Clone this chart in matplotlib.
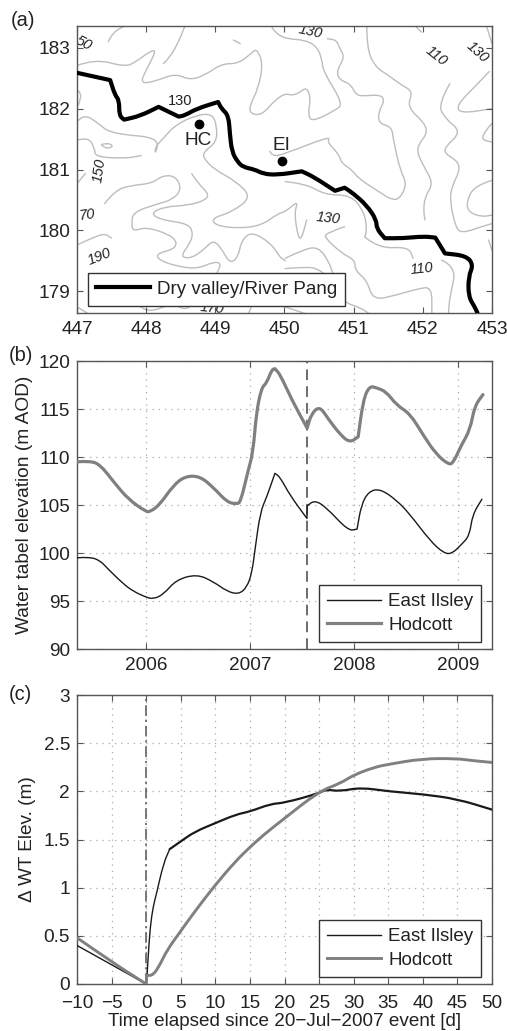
import matplotlib
matplotlib.use('Agg')
import matplotlib.pyplot as plt
from matplotlib.path import Path
from matplotlib.patches import PathPatch

plt.rcParams['font.family'] = ['Liberation Sans', 'DejaVu Sans']

W, H = 507, 1031
FS = 13.7
TEXT = '#222222'
FRAME = '#555555'
GREY = '#808080'
CONTOUR = '#bdbdbd'

# (a) river trace, km grid (repeated points are sharp bends)
river_x = [447.00, 447.48, 447.48, 447.55, 447.61, 447.61, 447.68, 447.68, 447.91, 448.18, 448.18, 448.47, 448.47,
           448.56, 448.73, 449.04, 449.04, 449.09, 449.19, 449.21, 449.24, 449.32, 449.40, 449.57, 449.69, 449.89,
           450.25, 450.25, 450.42, 450.73, 450.73, 450.87, 450.87, 450.99, 451.19, 451.33, 451.33, 451.45, 451.45,
           451.72, 452.01, 452.18, 452.18, 452.32, 452.32, 452.63, 452.73, 452.66, 452.66, 452.75, 452.79]
river_y = [182.59, 182.47, 182.47, 182.22, 182.14, 181.89, 181.82, 181.82, 181.88, 182.03, 182.03, 181.87, 181.87,
           181.89, 182.00, 182.11, 182.11, 182.00, 181.89, 181.59, 181.29, 181.13, 181.04, 181.00, 180.93, 180.91,
           180.97, 180.97, 180.88, 180.65, 180.65, 180.70, 180.70, 180.61, 180.41, 180.17, 180.03, 179.87, 179.87,
           179.87, 179.90, 179.88, 179.88, 179.62, 179.62, 179.58, 179.43, 179.24, 178.91, 178.74, 178.64]

# (a) contour traces
contours = [
    [(447.00, 182.71), (447.26, 182.82), (447.69, 182.69), (447.84, 182.76), (448.06, 182.95), (448.15, 182.96),
     (448.01, 182.66), (447.91, 182.41), (448.13, 182.45), (448.42, 182.58), (448.63, 182.47), (448.85, 182.55),
     (449.09, 182.74), (449.33, 182.74), (449.52, 182.91), (449.60, 182.99), (449.69, 182.74), (449.62, 182.33),
     (449.50, 182.06), (449.50, 181.92), (449.67, 181.89), (449.86, 182.14), (450.01, 182.25), (450.10, 182.22),
     (450.20, 182.25), (450.32, 182.36), (450.38, 182.17), (450.34, 181.92), (450.39, 181.78), (450.73, 181.97),
     (450.85, 182.08), (450.56, 182.61), (450.54, 182.82), (450.47, 183.02), (450.30, 183.13), (450.01, 183.15),
     (449.86, 183.26), (449.81, 183.36)],
    [(447.45, 183.10), (447.52, 183.26), (447.69, 183.36)],
    [(448.25, 182.74), (448.34, 182.84), (448.47, 183.10), (448.56, 183.36)],
    [(449.26, 183.13), (449.36, 183.07)],
    [(447.01, 182.30), (447.07, 182.25), (447.02, 182.06)],
    [(447.00, 181.78), (447.09, 181.92), (447.31, 181.76), (447.45, 181.62), (447.77, 181.56), (448.03, 181.54),
     (448.18, 181.45), (448.13, 181.25), (448.13, 181.37), (448.27, 181.54), (448.42, 181.73), (448.71, 181.89),
     (448.95, 181.92), (449.02, 181.73), (449.02, 181.45), (448.83, 181.29), (448.83, 181.18), (449.00, 180.99),
     (449.28, 180.82), (449.53, 180.55), (449.24, 180.30), (448.95, 180.20), (449.00, 180.08), (449.33, 180.03),
     (449.67, 180.08), (449.91, 180.28), (450.01, 180.30), (450.20, 180.49), (450.14, 180.28), (450.20, 179.87),
     (450.25, 179.87), (450.32, 180.17)],
    [(447.36, 181.41), (447.43, 181.44), (447.53, 181.39), (447.45, 181.34), (447.36, 181.39), (447.36, 181.41)],
    [(447.00, 181.48), (447.16, 181.54), (447.26, 181.34), (447.26, 181.21), (447.69, 181.18), (447.93, 181.23)],
    [(447.00, 180.77), (447.12, 180.93)],
    [(447.40, 180.44), (447.55, 180.66), (447.79, 180.74), (448.08, 180.77), (448.25, 180.91), (448.44, 180.88),
     (448.51, 180.66), (448.37, 180.50), (448.18, 180.44), (447.81, 180.30), (447.79, 180.11), (447.81, 179.98),
     (448.01, 180.06), (448.42, 179.89), (448.44, 179.70), (448.15, 179.62), (448.18, 179.51), (448.47, 179.40),
     (448.75, 179.37), (448.97, 179.48), (449.09, 179.46), (449.02, 179.29)],
    [(448.66, 180.93), (448.75, 180.77), (448.90, 180.61), (448.87, 180.50), (448.61, 180.41), (448.27, 180.39),
     (448.06, 180.28), (448.22, 180.17), (448.61, 180.11), (448.68, 179.95), (448.63, 179.78), (448.49, 179.56),
     (448.66, 179.54), (448.85, 179.70), (448.97, 179.84), (449.09, 179.70), (449.21, 179.45), (449.33, 179.56),
     (449.38, 179.84), (449.53, 179.98), (449.81, 179.78), (449.93, 179.56), (450.01, 179.50)],
    [(450.01, 179.54), (450.30, 179.70), (450.49, 179.72), (450.63, 179.51), (450.70, 179.29)],
    [(450.01, 179.37), (450.30, 179.40), (450.49, 179.37), (450.73, 179.13), (450.83, 178.83), (451.11, 178.72), (451.21, 178.64)],
    [(450.87, 180.06), (450.59, 179.95), (450.59, 179.87), (450.83, 179.62), (451.02, 179.51), (451.02, 179.34),
     (451.19, 179.18), (451.28, 178.85), (451.60, 178.93), (451.93, 179.04), (452.13, 179.07), (452.13, 178.64)],
    [(451.16, 179.89), (451.36, 179.70), (451.79, 179.73), (451.86, 179.54)],
    [(452.27, 179.51), (452.49, 179.40), (452.39, 178.91), (452.37, 178.64)],
    [(450.01, 180.80), (450.30, 180.77), (450.59, 180.58), (450.97, 180.58), (451.16, 180.28), (451.19, 180.00), (451.16, 179.89)],
    [(449.79, 181.30), (449.82, 181.21), (450.01, 181.26), (450.66, 181.55), (450.62, 181.45), (450.73, 181.32),
     (450.80, 181.21), (450.83, 181.10), (450.97, 181.00), (451.07, 180.85), (451.40, 180.61), (451.55, 180.50),
     (451.67, 180.52), (451.77, 180.77), (451.67, 180.99), (451.57, 181.51), (451.55, 181.70), (451.36, 181.76),
     (451.36, 181.95), (451.45, 182.14), (451.38, 182.23), (451.16, 182.21), (451.04, 182.22), (450.95, 182.41),
     (450.80, 182.47), (450.75, 182.61), (450.87, 182.85), (450.80, 182.99), (450.75, 183.13), (450.62, 183.15)],
    [(451.19, 183.36), (451.19, 182.99), (451.31, 182.69), (451.50, 182.55), (451.69, 182.39), (451.86, 182.28),
     (451.77, 182.03), (452.03, 181.76), (452.06, 181.59), (451.96, 181.45), (451.91, 181.29), (452.03, 181.02),
     (452.15, 180.77), (452.03, 180.55), (452.01, 180.33), (452.03, 180.17)],
    [(452.39, 182.41), (452.22, 182.08), (452.32, 181.84), (452.56, 181.62), (452.32, 181.37), (452.32, 181.26),
     (452.49, 181.15), (452.54, 181.00), (452.42, 180.72), (452.39, 180.50), (452.47, 180.06), (452.56, 179.95),
     (452.85, 180.06), (453.00, 180.11)],
    [(452.96, 182.61), (452.75, 182.36), (452.49, 182.06), (452.54, 181.92), (453.00, 182.00)],
    [(453.00, 181.76), (452.80, 181.51), (453.00, 181.45)],
    [(451.89, 183.36), (451.98, 183.26)],
    [(452.92, 183.36), (453.00, 183.07)],
    [(453.00, 180.82), (452.75, 180.74), (452.63, 180.47), (452.66, 180.30), (452.85, 180.22), (453.00, 180.25)],
    [(452.95, 179.84), (453.00, 179.67)],
    [(447.00, 179.76), (447.21, 179.87), (447.40, 179.95), (447.50, 179.87)],
    [(447.00, 178.74), (447.16, 178.63)],
    [(447.89, 178.77), (448.01, 178.63), (448.37, 178.80), (448.56, 178.69), (448.66, 178.77)],
    [(449.48, 178.63), (449.53, 178.77)],
    [(450.01, 178.74), (450.30, 178.63)],
]

# (a) contour labels: text, x, y, rotation
contour_labels = [
    ('130', 448.49, 182.12, 0), ('130', 450.37, 183.26, -12), ('110', 452.19, 182.86, -38),
    ('130', 452.79, 182.93, -42), ('50', 447.09, 183.07, -28), ('150', 447.32, 180.98, 82),
    ('70', 447.15, 180.25, 8), ('190', 447.32, 179.57, 22), ('130', 450.63, 180.20, -6),
    ('110', 451.99, 179.37, 6), ('170', 448.95, 178.72, -5),
]

# (a) wells
well_names = ['HC', 'EI']
well_x = [448.76, 449.97]
well_y = [181.75, 181.14]
well_label_x = [448.75, 449.96]
well_label_y = [181.47, 181.40]

# (b) water table elevation, m AOD
hod_year = [2005.34, 2005.46, 2005.56, 2005.69, 2005.83, 2006.00, 2006.04, 2006.13, 2006.26, 2006.375, 2006.52,
            2006.65, 2006.78, 2006.87, 2006.91, 2006.98, 2007.03, 2007.06, 2007.11, 2007.16, 2007.21, 2007.24, 2007.24,
            2007.29, 2007.40, 2007.55, 2007.55, 2007.59, 2007.67, 2007.75, 2007.87, 2007.96, 2008.04, 2008.04, 2008.09, 2008.15,
            2008.22, 2008.31, 2008.41, 2008.54, 2008.67, 2008.79, 2008.91, 2008.955, 2009.035, 2009.115, 2009.16, 2009.24]
hod_wt = [109.5, 109.6, 109.2, 107.4, 105.6, 104.3, 104.3, 105.0, 107.0, 108.0, 108.0,
          106.8, 105.3, 105.1, 105.3, 108.5, 110.5, 114.5, 117.2, 117.7, 119.1, 119.2, 119.2,
          118.6, 116.0, 113.0, 113.0, 114.5, 115.3, 114.0, 112.3, 111.5, 112.1, 112.1, 116.0, 117.4,
          117.2, 116.8, 115.4, 114.5, 112.2, 110.3, 109.2, 109.4, 111.3, 112.8, 115.3, 116.5]
ei_year = [2005.34, 2005.46, 2005.56, 2005.62, 2005.78, 2005.88, 2006.00, 2006.07, 2006.17, 2006.29, 2006.49,
           2006.65, 2006.78, 2006.89, 2006.97, 2007.02, 2007.05, 2007.10, 2007.16, 2007.24, 2007.24, 2007.29, 2007.385,
           2007.548, 2007.548, 2007.55, 2007.55, 2007.62, 2007.73, 2007.945, 2008.03, 2008.03, 2008.07, 2008.14, 2008.25, 2008.41, 2008.54,
           2008.73, 2008.86, 2008.94, 2009.035, 2009.11, 2009.14, 2009.23]
ei_wt = [99.5, 99.6, 99.2, 98.5, 96.8, 96.0, 95.4, 95.2, 95.7, 97.2, 97.8,
         97.0, 96.0, 95.7, 96.4, 98.0, 100.5, 104.3, 105.8, 108.3, 108.3, 107.9, 106.0,
         103.6, 103.6, 104.9, 104.9, 105.5, 104.8, 102.3, 102.5, 102.5, 105.0, 106.4, 106.7, 105.5, 104.0,
         101.3, 100.0, 99.9, 100.9, 101.8, 104.0, 105.6]
event_year = 2007.55

# (c) change in water table since event
ei_days = [-10, -5, 0, 0, 0.1, 0.3, 0.6, 1.0, 1.5, 2.5, 3.4, 5, 7, 10, 13, 15, 18, 20, 25, 26, 28, 31, 35, 40, 45, 50]
ei_dwt = [0.40, 0.20, 0.0, 0.0, 0.05, 0.30, 0.60, 0.80, 0.94, 1.25, 1.40, 1.48, 1.58, 1.67, 1.76, 1.79, 1.87, 1.88,
          1.98, 2.02, 2.00, 2.04, 2.00, 1.97, 1.92, 1.81]
hod_days = [-10, -5, 0, 0, 0.1, 0.1, 1, 2, 3, 5, 7, 10, 13, 15, 17, 20, 25, 28, 30, 33, 35, 40, 45, 47, 50]
hod_dwt = [0.48, 0.23, 0.0, 0.0, 0.09, 0.09, 0.09, 0.20, 0.35, 0.55, 0.75, 1.03, 1.28, 1.42, 1.55, 1.72, 2.00, 2.08, 2.17,
           2.25, 2.28, 2.34, 2.34, 2.32, 2.30]


def make_axes(left, top, right, bottom):
    ax = fig.add_axes([left / W, 1 - bottom / H, (right - left) / W, (bottom - top) / H])
    ax.tick_params(direction='in', top=True, right=True, length=4, width=0.8, color=FRAME,
                   labelcolor=TEXT, labelsize=FS)
    ax.tick_params(axis='x', pad=6)
    ax.tick_params(axis='y', pad=5)
    for s in ax.spines.values():
        s.set_color(FRAME)
        s.set_linewidth(1.0)
    return ax


def smooth_line(ax, x, y, label=None, **kw):
    # rounded line through the read points, repeated points keep their corner
    verts = [(x[0], y[0])]
    codes = [Path.MOVETO]
    for i in range(1, len(x) - 1):
        verts += [(x[i], y[i]), ((x[i] + x[i + 1]) / 2, (y[i] + y[i + 1]) / 2)]
        codes += [Path.CURVE3, Path.CURVE3]
    verts.append((x[-1], y[-1]))
    codes.append(Path.LINETO)
    ax.add_patch(PathPatch(Path(verts, codes), fill=False, capstyle='round', joinstyle='round', **kw))
    if label:
        ax.plot([], [], color=kw['edgecolor'], lw=kw['lw'], label=label)


def box_legend(ax, left, top, right, bottom, box):
    # legend box given in pixels, box is the axes frame
    ax_left, ax_top, ax_right, ax_bottom = box
    x0 = (left - ax_left) / (ax_right - ax_left)
    y0 = (ax_bottom - bottom) / (ax_bottom - ax_top)
    w = (right - left) / (ax_right - ax_left)
    h = (bottom - top) / (ax_bottom - ax_top)
    leg = ax.legend(loc='center', bbox_to_anchor=(x0, y0, w, h), fancybox=False, framealpha=1,
                    edgecolor='#333333', borderaxespad=0, borderpad=0.42, handlelength=2.9, handletextpad=0.37,
                    labelspacing=0.35, fontsize=13.5, labelcolor=TEXT)
    leg.get_frame().set_linewidth(1.0)


fig = plt.figure(figsize=(W / 100, H / 100), dpi=100)

# (a)
box1 = (77, 26, 492, 313)
ax1 = make_axes(*box1)
for c in contours:
    smooth_line(ax1, [p[0] for p in c], [p[1] for p in c], edgecolor=CONTOUR, lw=1.0, zorder=1)
smooth_line(ax1, river_x, river_y, label='Dry valley/River Pang', edgecolor='black', lw=3, zorder=3)
ax1.plot(well_x, well_y, 'o', color='black', ms=6, zorder=4)
for name, x, y in zip(well_names, well_label_x, well_label_y):
    ax1.text(x, y, name, ha='center', va='center', fontsize=FS, color=TEXT, zorder=4)
for txt, x, y, rot in contour_labels:
    ax1.text(x, y, txt, rotation=rot, ha='center', va='center', fontsize=10.5, color=TEXT, clip_on=True, zorder=2,
             style='normal' if rot == 0 else 'italic')
ax1.set_xlim(447, 453)
ax1.set_ylim(178.64, 183.36)
ax1.set_xticks([447, 448, 449, 450, 451, 452, 453])
ax1.set_yticks([179, 180, 181, 182, 183])
box_legend(ax1, 87, 275, 346, 304, box1)

# (b)
box2 = (77, 361, 492, 649)
ax2 = make_axes(*box2)
ax2.grid(True, color='#aaaaaa', lw=0.9, dashes=(1, 4))
smooth_line(ax2, ei_year, ei_wt, label='East Ilsley', edgecolor='#1a1a1a', lw=1.0, zorder=3)
smooth_line(ax2, hod_year, hod_wt, label='Hodcott', edgecolor=GREY, lw=2.3, zorder=3)
ax2.axvline(event_year, color='#444444', lw=1.1, dashes=(7, 4), zorder=2)
ax2.set_xlim(2005.337, 2009.327)
ax2.set_ylim(90, 120)
ax2.set_xticks([2006, 2007, 2008, 2009])
ax2.set_yticks([90, 95, 100, 105, 110, 115, 120])
ax2.set_ylabel('Water tabel elevation (m AOD)', color=TEXT, fontsize=13.8)
ax2.yaxis.set_label_coords(-0.107, 0.5)
box_legend(ax2, 317, 587, 483, 640, box2)

# (c)
box3 = (77, 695, 492, 984)
ax3 = make_axes(*box3)
ax3.tick_params(axis='x', pad=8)
ax3.grid(True, color='#aaaaaa', lw=0.9, dashes=(1, 4))
smooth_line(ax3, ei_days[:11], ei_dwt[:11], edgecolor='#1a1a1a', lw=1.0, zorder=3)
smooth_line(ax3, ei_days[10:], ei_dwt[10:], edgecolor='#1a1a1a', lw=1.6, zorder=3)
ax3.plot([], [], color='#1a1a1a', lw=1.0, label='East Ilsley')
smooth_line(ax3, hod_days, hod_dwt, label='Hodcott', edgecolor=GREY, lw=2.1, zorder=3)
ax3.axvline(0, color='#555555', lw=1.1, dashes=(7, 2.5, 1.5, 2.5), zorder=2)
ax3.set_xlim(-10, 50)
ax3.set_ylim(0, 3)
ax3.set_xticks(range(-10, 51, 5))
ax3.set_yticks([0, 0.5, 1, 1.5, 2, 2.5, 3])
ax3.set_yticklabels(['0', '0.5', '1', '1.5', '2', '2.5', '3'])
ax3.set_xlabel('Time elapsed since 20\u2212Jul\u22122007 event [d]', color=TEXT, fontsize=13.6, labelpad=0.5)
ax3.set_ylabel('\u0394 WT Elev. (m)', color=TEXT, fontsize=13.7)
ax3.yaxis.set_label_coords(-0.1, 0.5)
box_legend(ax3, 317, 922, 483, 975, box3)

for label, x, y in [('(a)', 11, 20), ('(b)', 9, 355), ('(c)', 9, 695)]:
    fig.text(x / W, 1 - y / H, label, ha='left', va='center', fontsize=14.4, color=TEXT)

fig.savefig('out.png', dpi=100)
